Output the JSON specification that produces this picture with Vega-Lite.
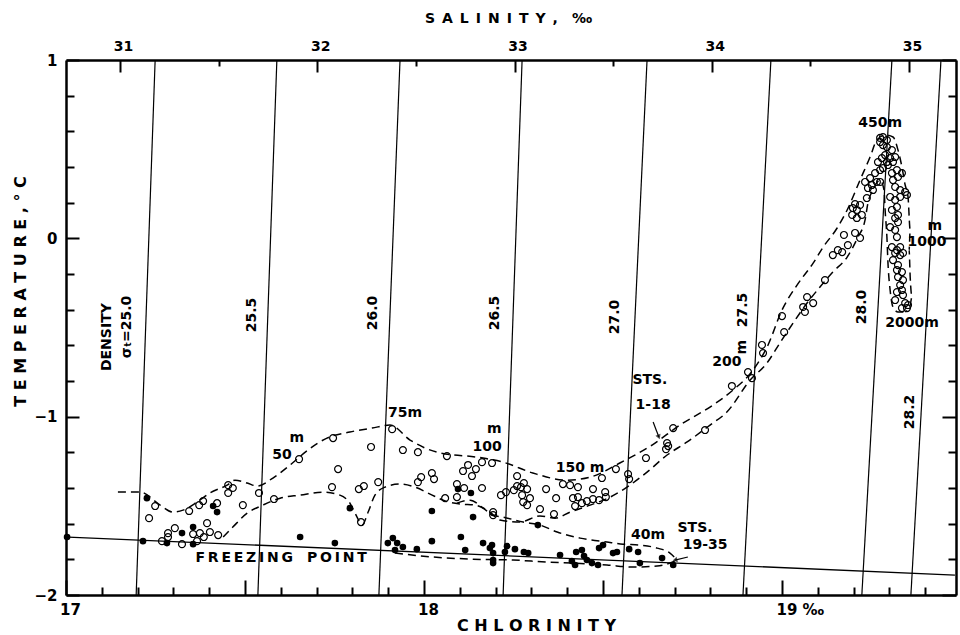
{
  "$schema": "https://vega.github.io/schema/vega-lite/v6.json",
  "width": 890,
  "height": 535,
  "autosize": {"type": "none"},
  "padding": {"left": 66, "top": 60, "right": 4, "bottom": 40},
  "background": "white",
  "config": {
    "view": {"stroke": null},
    "font": "DejaVu Sans",
    "axis": {"grid": false, "ticks": true, "domainColor": "black", "tickColor": "black", "labelColor": "black", "titleColor": "black", "labelOverlap": false, "labelFlush": false, "labelBound": false}
  },
  "datasets": {
    "iso": [
      {"sigma": "25.0", "i": 0, "cl": 17.196, "t": -2}, {"sigma": "25.0", "i": 1, "cl": 17.249, "t": 1},
      {"sigma": "25.5", "i": 0, "cl": 17.536, "t": -2}, {"sigma": "25.5", "i": 1, "cl": 17.589, "t": 1},
      {"sigma": "26.0", "i": 0, "cl": 17.874, "t": -2}, {"sigma": "26.0", "i": 1, "cl": 17.933, "t": 1},
      {"sigma": "26.5", "i": 0, "cl": 18.221, "t": -2}, {"sigma": "26.5", "i": 1, "cl": 18.274, "t": 1},
      {"sigma": "27.0", "i": 0, "cl": 18.553, "t": -2}, {"sigma": "27.0", "i": 1, "cl": 18.623, "t": 1},
      {"sigma": "27.5", "i": 0, "cl": 18.891, "t": -2}, {"sigma": "27.5", "i": 1, "cl": 18.969, "t": 1},
      {"sigma": "28.0", "i": 0, "cl": 19.223, "t": -2}, {"sigma": "28.0", "i": 1, "cl": 19.307, "t": 1},
      {"sigma": "28.2", "i": 0, "cl": 19.360, "t": -2}, {"sigma": "28.2", "i": 1, "cl": 19.444, "t": 1}
    ],
    "freeze": [
      {"i": 0, "cl": 17.006, "t": -1.675}, {"i": 1, "cl": 19.483, "t": -1.888}
    ],
    "env": [
      {"id": "E1", "i": 0, "cl": 17.145, "t": -1.423}, {"id": "E1", "i": 1, "cl": 17.207, "t": -1.423},
      {"id": "E1", "i": 2, "cl": 17.263, "t": -1.496}, {"id": "E1", "i": 3, "cl": 17.299, "t": -1.535},
      {"id": "E1", "i": 4, "cl": 17.327, "t": -1.524}, {"id": "E1", "i": 5, "cl": 17.366, "t": -1.479},
      {"id": "E1", "i": 6, "cl": 17.402, "t": -1.428}, {"id": "E1", "i": 7, "cl": 17.450, "t": -1.384},
      {"id": "E1", "i": 8, "cl": 17.472, "t": -1.356}, {"id": "E1", "i": 9, "cl": 17.506, "t": -1.372},
      {"id": "E1", "i": 10, "cl": 17.534, "t": -1.389}, {"id": "E1", "i": 11, "cl": 17.578, "t": -1.344},
      {"id": "E1", "i": 12, "cl": 17.626, "t": -1.271}, {"id": "E1", "i": 13, "cl": 17.676, "t": -1.187},
      {"id": "E1", "i": 14, "cl": 17.729, "t": -1.120}, {"id": "E1", "i": 15, "cl": 17.793, "t": -1.086},
      {"id": "E1", "i": 16, "cl": 17.855, "t": -1.064}, {"id": "E1", "i": 17, "cl": 17.905, "t": -1.047},
      {"id": "E1", "i": 18, "cl": 17.961, "t": -1.131}, {"id": "E1", "i": 19, "cl": 18.036, "t": -1.199},
      {"id": "E1", "i": 20, "cl": 18.165, "t": -1.232}, {"id": "E1", "i": 21, "cl": 18.221, "t": -1.255},
      {"id": "E1", "i": 22, "cl": 18.304, "t": -1.316}, {"id": "E1", "i": 23, "cl": 18.399, "t": -1.356},
      {"id": "E1", "i": 24, "cl": 18.464, "t": -1.339}, {"id": "E1", "i": 25, "cl": 18.547, "t": -1.260},
      {"id": "E1", "i": 26, "cl": 18.637, "t": -1.159}, {"id": "E1", "i": 27, "cl": 18.715, "t": -1.047},
      {"id": "E1", "i": 28, "cl": 18.807, "t": -0.935}, {"id": "E1", "i": 29, "cl": 18.863, "t": -0.851},
      {"id": "E1", "i": 30, "cl": 18.919, "t": -0.739}, {"id": "E1", "i": 31, "cl": 18.961, "t": -0.598},
      {"id": "E1", "i": 32, "cl": 19.000, "t": -0.402}, {"id": "E1", "i": 33, "cl": 19.042, "t": -0.262},
      {"id": "E1", "i": 34, "cl": 19.087, "t": -0.139}, {"id": "E1", "i": 35, "cl": 19.115, "t": -0.049},
      {"id": "E1", "i": 36, "cl": 19.154, "t": 0.058}, {"id": "E1", "i": 37, "cl": 19.182, "t": 0.159},
      {"id": "E1", "i": 38, "cl": 19.218, "t": 0.327}, {"id": "E1", "i": 39, "cl": 19.246, "t": 0.456},
      {"id": "E1", "i": 40, "cl": 19.265, "t": 0.551}, {"id": "E1", "i": 41, "cl": 19.288, "t": 0.579},
      {"id": "E1", "i": 42, "cl": 19.310, "t": 0.568}, {"id": "E1", "i": 43, "cl": 19.324, "t": 0.495},
      {"id": "E1", "i": 44, "cl": 19.335, "t": 0.400}, {"id": "E1", "i": 45, "cl": 19.344, "t": 0.299},
      {"id": "E1", "i": 46, "cl": 19.352, "t": 0.232}, {"id": "E1", "i": 47, "cl": 19.358, "t": 0.047},
      {"id": "E1", "i": 48, "cl": 19.355, "t": -0.066}, {"id": "E1", "i": 49, "cl": 19.358, "t": -0.217},
      {"id": "E1", "i": 50, "cl": 19.363, "t": -0.329}, {"id": "E1", "i": 51, "cl": 19.358, "t": -0.374},
      {"id": "E1", "i": 52, "cl": 19.344, "t": -0.413},
      {"id": "E2", "i": 0, "cl": 17.439, "t": -1.675}, {"id": "E2", "i": 1, "cl": 17.466, "t": -1.619},
      {"id": "E2", "i": 2, "cl": 17.506, "t": -1.541}, {"id": "E2", "i": 3, "cl": 17.550, "t": -1.496},
      {"id": "E2", "i": 4, "cl": 17.598, "t": -1.457}, {"id": "E2", "i": 5, "cl": 17.654, "t": -1.440},
      {"id": "E2", "i": 6, "cl": 17.718, "t": -1.423}, {"id": "E2", "i": 7, "cl": 17.765, "t": -1.440},
      {"id": "E2", "i": 8, "cl": 17.793, "t": -1.485}, {"id": "E2", "i": 9, "cl": 17.813, "t": -1.563},
      {"id": "E2", "i": 10, "cl": 17.827, "t": -1.608}, {"id": "E2", "i": 11, "cl": 17.844, "t": -1.535},
      {"id": "E2", "i": 12, "cl": 17.863, "t": -1.440}, {"id": "E2", "i": 13, "cl": 17.891, "t": -1.395},
      {"id": "E2", "i": 14, "cl": 17.933, "t": -1.378}, {"id": "E2", "i": 15, "cl": 17.975, "t": -1.395},
      {"id": "E2", "i": 16, "cl": 18.017, "t": -1.434}, {"id": "E2", "i": 17, "cl": 18.059, "t": -1.473},
      {"id": "E2", "i": 18, "cl": 18.101, "t": -1.490}, {"id": "E2", "i": 19, "cl": 18.143, "t": -1.496},
      {"id": "E2", "i": 20, "cl": 18.184, "t": -1.535}, {"id": "E2", "i": 21, "cl": 18.212, "t": -1.580},
      {"id": "E2", "i": 22, "cl": 18.268, "t": -1.591}, {"id": "E2", "i": 23, "cl": 18.324, "t": -1.557},
      {"id": "E2", "i": 24, "cl": 18.366, "t": -1.569}, {"id": "E2", "i": 25, "cl": 18.408, "t": -1.535},
      {"id": "E2", "i": 26, "cl": 18.464, "t": -1.496}, {"id": "E2", "i": 27, "cl": 18.520, "t": -1.451},
      {"id": "E2", "i": 28, "cl": 18.567, "t": -1.395}, {"id": "E2", "i": 29, "cl": 18.623, "t": -1.311},
      {"id": "E2", "i": 30, "cl": 18.679, "t": -1.215}, {"id": "E2", "i": 31, "cl": 18.735, "t": -1.142},
      {"id": "E2", "i": 32, "cl": 18.799, "t": -1.047}, {"id": "E2", "i": 33, "cl": 18.846, "t": -0.974},
      {"id": "E2", "i": 34, "cl": 18.911, "t": -0.795}, {"id": "E2", "i": 35, "cl": 18.958, "t": -0.699},
      {"id": "E2", "i": 36, "cl": 18.994, "t": -0.587}, {"id": "E2", "i": 37, "cl": 19.031, "t": -0.475},
      {"id": "E2", "i": 38, "cl": 19.070, "t": -0.363}, {"id": "E2", "i": 39, "cl": 19.106, "t": -0.273},
      {"id": "E2", "i": 40, "cl": 19.142, "t": -0.189}, {"id": "E2", "i": 41, "cl": 19.182, "t": -0.105},
      {"id": "E2", "i": 42, "cl": 19.212, "t": 0.007}, {"id": "E2", "i": 43, "cl": 19.232, "t": 0.103},
      {"id": "E2", "i": 44, "cl": 19.240, "t": 0.198}, {"id": "E2", "i": 45, "cl": 19.254, "t": 0.271},
      {"id": "E2", "i": 46, "cl": 19.274, "t": 0.327}, {"id": "E2", "i": 47, "cl": 19.285, "t": 0.271},
      {"id": "E2", "i": 48, "cl": 19.288, "t": 0.159}, {"id": "E2", "i": 49, "cl": 19.293, "t": 0.007},
      {"id": "E2", "i": 50, "cl": 19.296, "t": -0.139}, {"id": "E2", "i": 51, "cl": 19.302, "t": -0.290},
      {"id": "E2", "i": 52, "cl": 19.310, "t": -0.385}, {"id": "E2", "i": 53, "cl": 19.324, "t": -0.413},
      {"id": "E2", "i": 54, "cl": 19.344, "t": -0.413},
      {"id": "E3", "i": 0, "cl": 18.092, "t": -1.485}, {"id": "E3", "i": 1, "cl": 18.129, "t": -1.468},
      {"id": "E3", "i": 2, "cl": 18.165, "t": -1.513}, {"id": "E3", "i": 3, "cl": 18.193, "t": -1.552},
      {"id": "E3", "i": 4, "cl": 18.221, "t": -1.563}, {"id": "E3", "i": 5, "cl": 18.277, "t": -1.591},
      {"id": "E3", "i": 6, "cl": 18.324, "t": -1.608}, {"id": "E3", "i": 7, "cl": 18.372, "t": -1.647},
      {"id": "E3", "i": 8, "cl": 18.436, "t": -1.681}, {"id": "E3", "i": 9, "cl": 18.511, "t": -1.703},
      {"id": "E3", "i": 10, "cl": 18.556, "t": -1.715}, {"id": "E3", "i": 11, "cl": 18.603, "t": -1.720},
      {"id": "E3", "i": 12, "cl": 18.651, "t": -1.737}, {"id": "E3", "i": 13, "cl": 18.687, "t": -1.765},
      {"id": "E3", "i": 14, "cl": 18.707, "t": -1.804},
      {"id": "E4", "i": 0, "cl": 17.919, "t": -1.765}, {"id": "E4", "i": 1, "cl": 18.025, "t": -1.787},
      {"id": "E4", "i": 2, "cl": 18.137, "t": -1.799}, {"id": "E4", "i": 3, "cl": 18.249, "t": -1.804},
      {"id": "E4", "i": 4, "cl": 18.344, "t": -1.815}, {"id": "E4", "i": 5, "cl": 18.416, "t": -1.821},
      {"id": "E4", "i": 6, "cl": 18.511, "t": -1.832}, {"id": "E4", "i": 7, "cl": 18.584, "t": -1.843},
      {"id": "E4", "i": 8, "cl": 18.651, "t": -1.838}, {"id": "E4", "i": 9, "cl": 18.687, "t": -1.821},
      {"id": "E4", "i": 10, "cl": 18.707, "t": -1.804}
    ],
    "arrows": [
      {"id": "A1", "i": 0, "cl": 18.640, "t": -1.030}, {"id": "A1", "i": 1, "cl": 18.656, "t": -1.114},
      {"id": "A2", "i": 0, "cl": 18.737, "t": -1.787}, {"id": "A2", "i": 1, "cl": 18.701, "t": -1.804}
    ],
    "open": [
      {"cl": 17.249, "t": -1.501}, {"cl": 17.232, "t": -1.569}, {"cl": 17.268, "t": -1.698}, {"cl": 17.285, "t": -1.675},
      {"cl": 17.285, "t": -1.653}, {"cl": 17.304, "t": -1.625}, {"cl": 17.324, "t": -1.715}, {"cl": 17.355, "t": -1.658},
      {"cl": 17.374, "t": -1.653}, {"cl": 17.366, "t": -1.698}, {"cl": 17.385, "t": -1.675}, {"cl": 17.402, "t": -1.647},
      {"cl": 17.394, "t": -1.597}, {"cl": 17.425, "t": -1.664}, {"cl": 17.344, "t": -1.529}, {"cl": 17.372, "t": -1.496},
      {"cl": 17.383, "t": -1.473}, {"cl": 17.422, "t": -1.485}, {"cl": 17.453, "t": -1.428}, {"cl": 17.453, "t": -1.384},
      {"cl": 17.466, "t": -1.400}, {"cl": 17.494, "t": -1.496}, {"cl": 17.539, "t": -1.428}, {"cl": 17.581, "t": -1.462},
      {"cl": 17.651, "t": -1.238}, {"cl": 17.746, "t": -1.120}, {"cl": 17.760, "t": -1.294}, {"cl": 17.743, "t": -1.395},
      {"cl": 17.818, "t": -1.406}, {"cl": 17.832, "t": -1.389}, {"cl": 17.824, "t": -1.591}, {"cl": 17.852, "t": -1.170},
      {"cl": 17.872, "t": -1.367}, {"cl": 17.911, "t": -1.070}, {"cl": 17.941, "t": -1.187}, {"cl": 17.983, "t": -1.199},
      {"cl": 18.064, "t": -1.221}, {"cl": 17.983, "t": -1.367}, {"cl": 17.992, "t": -1.339}, {"cl": 18.022, "t": -1.316},
      {"cl": 18.028, "t": -1.350}, {"cl": 18.059, "t": -1.457}, {"cl": 18.092, "t": -1.451}, {"cl": 18.092, "t": -1.378},
      {"cl": 18.112, "t": -1.400}, {"cl": 18.109, "t": -1.305}, {"cl": 18.123, "t": -1.271}, {"cl": 18.134, "t": -1.333},
      {"cl": 18.145, "t": -1.294}, {"cl": 18.162, "t": -1.255}, {"cl": 18.190, "t": -1.260}, {"cl": 18.162, "t": -1.400},
      {"cl": 18.193, "t": -1.535}, {"cl": 18.193, "t": -1.552}, {"cl": 18.215, "t": -1.440}, {"cl": 18.229, "t": -1.423},
      {"cl": 18.251, "t": -1.412}, {"cl": 18.260, "t": -1.389}, {"cl": 18.271, "t": -1.395}, {"cl": 18.279, "t": -1.372},
      {"cl": 18.288, "t": -1.406}, {"cl": 18.274, "t": -1.440}, {"cl": 18.296, "t": -1.457}, {"cl": 18.277, "t": -1.479},
      {"cl": 18.288, "t": -1.496}, {"cl": 18.260, "t": -1.333}, {"cl": 18.324, "t": -1.518}, {"cl": 18.341, "t": -1.406},
      {"cl": 18.363, "t": -1.546}, {"cl": 18.369, "t": -1.457}, {"cl": 18.388, "t": -1.378}, {"cl": 18.408, "t": -1.384},
      {"cl": 18.430, "t": -1.395}, {"cl": 18.416, "t": -1.457}, {"cl": 18.430, "t": -1.451}, {"cl": 18.422, "t": -1.501},
      {"cl": 18.441, "t": -1.485}, {"cl": 18.455, "t": -1.473}, {"cl": 18.472, "t": -1.462}, {"cl": 18.489, "t": -1.468},
      {"cl": 18.508, "t": -1.451}, {"cl": 18.472, "t": -1.406}, {"cl": 18.506, "t": -1.423}, {"cl": 18.497, "t": -1.344},
      {"cl": 18.536, "t": -1.294}, {"cl": 18.570, "t": -1.322}, {"cl": 18.573, "t": -1.350}, {"cl": 18.620, "t": -1.232},
      {"cl": 18.679, "t": -1.148}, {"cl": 18.682, "t": -1.165}, {"cl": 18.676, "t": -1.182}, {"cl": 18.696, "t": -1.064},
      {"cl": 18.785, "t": -1.075}, {"cl": 18.860, "t": -0.828}, {"cl": 18.905, "t": -0.750}, {"cl": 18.916, "t": -0.784},
      {"cl": 18.944, "t": -0.598}, {"cl": 18.947, "t": -0.643}, {"cl": 19.000, "t": -0.436}, {"cl": 19.006, "t": -0.526},
      {"cl": 19.059, "t": -0.385}, {"cl": 19.064, "t": -0.413}, {"cl": 19.070, "t": -0.329}, {"cl": 19.087, "t": -0.363},
      {"cl": 19.120, "t": -0.234}, {"cl": 19.142, "t": -0.094}, {"cl": 19.156, "t": -0.066}, {"cl": 19.173, "t": 0.019},
      {"cl": 19.204, "t": 0.030}, {"cl": 19.218, "t": 0.002}, {"cl": 19.184, "t": -0.038}, {"cl": 19.168, "t": -0.077},
      {"cl": 19.196, "t": 0.131}, {"cl": 19.209, "t": 0.159}, {"cl": 19.218, "t": 0.187}, {"cl": 19.198, "t": 0.170},
      {"cl": 19.223, "t": 0.131}, {"cl": 19.209, "t": 0.114}, {"cl": 19.204, "t": 0.192}, {"cl": 19.237, "t": 0.226},
      {"cl": 19.240, "t": 0.282}, {"cl": 19.251, "t": 0.299}, {"cl": 19.265, "t": 0.316}, {"cl": 19.254, "t": 0.271},
      {"cl": 19.274, "t": 0.316}, {"cl": 19.246, "t": 0.338}, {"cl": 19.232, "t": 0.316}, {"cl": 19.260, "t": 0.366},
      {"cl": 19.274, "t": 0.383}, {"cl": 19.282, "t": 0.394}, {"cl": 19.268, "t": 0.428}, {"cl": 19.279, "t": 0.450},
      {"cl": 19.288, "t": 0.467}, {"cl": 19.293, "t": 0.428}, {"cl": 19.296, "t": 0.411}, {"cl": 19.302, "t": 0.450},
      {"cl": 19.310, "t": 0.428}, {"cl": 19.316, "t": 0.456}, {"cl": 19.307, "t": 0.495}, {"cl": 19.293, "t": 0.512},
      {"cl": 19.282, "t": 0.523}, {"cl": 19.274, "t": 0.540}, {"cl": 19.282, "t": 0.568}, {"cl": 19.293, "t": 0.551},
      {"cl": 19.274, "t": 0.563}, {"cl": 19.307, "t": 0.366}, {"cl": 19.321, "t": 0.383}, {"cl": 19.310, "t": 0.327},
      {"cl": 19.324, "t": 0.344}, {"cl": 19.335, "t": 0.366}, {"cl": 19.316, "t": 0.288}, {"cl": 19.330, "t": 0.271},
      {"cl": 19.344, "t": 0.260}, {"cl": 19.349, "t": 0.243}, {"cl": 19.302, "t": 0.232}, {"cl": 19.316, "t": 0.215},
      {"cl": 19.330, "t": 0.232}, {"cl": 19.321, "t": 0.176}, {"cl": 19.307, "t": 0.159}, {"cl": 19.324, "t": 0.131},
      {"cl": 19.316, "t": 0.114}, {"cl": 19.324, "t": 0.091}, {"cl": 19.302, "t": 0.063}, {"cl": 19.316, "t": 0.047},
      {"cl": 19.321, "t": 0.007}, {"cl": 19.307, "t": -0.049}, {"cl": 19.321, "t": -0.066}, {"cl": 19.330, "t": -0.049},
      {"cl": 19.316, "t": -0.082}, {"cl": 19.330, "t": -0.094}, {"cl": 19.338, "t": -0.082}, {"cl": 19.310, "t": -0.122},
      {"cl": 19.324, "t": -0.150}, {"cl": 19.321, "t": -0.178}, {"cl": 19.335, "t": -0.189}, {"cl": 19.324, "t": -0.217},
      {"cl": 19.338, "t": -0.234}, {"cl": 19.330, "t": -0.262}, {"cl": 19.335, "t": -0.290}, {"cl": 19.321, "t": -0.301},
      {"cl": 19.338, "t": -0.318}, {"cl": 19.316, "t": -0.346}, {"cl": 19.344, "t": -0.363}, {"cl": 19.352, "t": -0.374},
      {"cl": 19.349, "t": -0.391}, {"cl": 19.335, "t": -0.391}
    ],
    "filled": [
      {"cl": 17.003, "t": -1.675}, {"cl": 17.215, "t": -1.698}, {"cl": 17.226, "t": -1.457}, {"cl": 17.282, "t": -1.709},
      {"cl": 17.324, "t": -1.653}, {"cl": 17.355, "t": -1.619}, {"cl": 17.355, "t": -1.715}, {"cl": 17.411, "t": -1.501},
      {"cl": 17.422, "t": -1.535}, {"cl": 17.654, "t": -1.675}, {"cl": 17.751, "t": -1.709}, {"cl": 17.793, "t": -1.513},
      {"cl": 17.899, "t": -1.709}, {"cl": 17.913, "t": -1.681}, {"cl": 17.925, "t": -1.709}, {"cl": 17.919, "t": -1.748},
      {"cl": 17.941, "t": -1.731}, {"cl": 17.980, "t": -1.743}, {"cl": 18.022, "t": -1.698}, {"cl": 18.022, "t": -1.529},
      {"cl": 18.095, "t": -1.406}, {"cl": 18.103, "t": -1.675}, {"cl": 18.115, "t": -1.748}, {"cl": 18.131, "t": -1.428},
      {"cl": 18.137, "t": -1.563}, {"cl": 18.165, "t": -1.709}, {"cl": 18.190, "t": -1.720}, {"cl": 18.193, "t": -1.765},
      {"cl": 18.184, "t": -1.737}, {"cl": 18.193, "t": -1.804}, {"cl": 18.193, "t": -1.821}, {"cl": 18.232, "t": -1.726},
      {"cl": 18.226, "t": -1.759}, {"cl": 18.254, "t": -1.743}, {"cl": 18.279, "t": -1.759}, {"cl": 18.291, "t": -1.765},
      {"cl": 18.318, "t": -1.608}, {"cl": 18.380, "t": -1.776}, {"cl": 18.413, "t": -1.810}, {"cl": 18.422, "t": -1.832},
      {"cl": 18.447, "t": -1.782}, {"cl": 18.455, "t": -1.804}, {"cl": 18.425, "t": -1.759}, {"cl": 18.441, "t": -1.748},
      {"cl": 18.469, "t": -1.821}, {"cl": 18.486, "t": -1.832}, {"cl": 18.489, "t": -1.737}, {"cl": 18.500, "t": -1.720},
      {"cl": 18.528, "t": -1.765}, {"cl": 18.539, "t": -1.759}, {"cl": 18.573, "t": -1.743}, {"cl": 18.598, "t": -1.759},
      {"cl": 18.603, "t": -1.821}, {"cl": 18.665, "t": -1.793}, {"cl": 18.696, "t": -1.832}
    ],
    "labels": [
      {"txt": "450m", "cl": 19.274, "t": 0.647},
      {"txt": "1000", "cl": 19.405, "t": -0.021},
      {"txt": "m", "cl": 19.427, "t": 0.070},
      {"txt": "2000m", "cl": 19.363, "t": -0.475},
      {"txt": "50", "cl": 17.603, "t": -1.215},
      {"txt": "m", "cl": 17.645, "t": -1.118},
      {"txt": "75m", "cl": 17.947, "t": -0.980},
      {"txt": "100", "cl": 18.176, "t": -1.168},
      {"txt": "m", "cl": 18.196, "t": -1.070},
      {"txt": "150 m", "cl": 18.436, "t": -1.288},
      {"txt": "40m", "cl": 18.626, "t": -1.664},
      {"txt": "STS.", "cl": 18.757, "t": -1.622},
      {"txt": "19-35", "cl": 18.785, "t": -1.722},
      {"txt": "STS.", "cl": 18.631, "t": -0.795},
      {"txt": "1-18", "cl": 18.640, "t": -0.935},
      {"txt": "200", "cl": 18.846, "t": -0.694},
      {"txt": "F\u2009R\u2009E\u2009E\u2009Z\u2009I\u2009N\u2009G\u2002\u2002P\u2009O\u2009I\u2009N\u2009T", "cl": 17.601, "t": -1.793}
    ],
    "vlabels": [
      {"txt": "DENSITY", "cl": 17.115, "t": -0.554},
      {"txt": "σₜ=25.0", "cl": 17.170, "t": -0.497},
      {"txt": "25.5", "cl": 17.520, "t": -0.430},
      {"txt": "26.0", "cl": 17.858, "t": -0.419},
      {"txt": "26.5", "cl": 18.198, "t": -0.419},
      {"txt": "27.0", "cl": 18.534, "t": -0.441},
      {"txt": "27.5", "cl": 18.891, "t": -0.402},
      {"txt": "28.0", "cl": 19.223, "t": -0.385},
      {"txt": "28.2", "cl": 19.358, "t": -0.974},
      {"txt": "m", "cl": 18.888, "t": -0.610}
    ],
    "sal": [
      {"s": 30.726, "t": -2}, {"s": 35.238, "t": 1}
    ]
  },
  "layer": [
    {
      "layer": [
        {
          "data": {"name": "iso"},
          "mark": {"type": "line", "color": "black", "strokeWidth": 1.2},
          "encoding": {
            "x": {
              "field": "cl", "type": "quantitative",
              "scale": {"domain": [17, 19.486], "nice": false, "zero": false},
              "axis": {
                "orient": "bottom", "offset": -8,
                "values": [17.1, 17.2, 17.3, 17.4, 17.6, 17.7, 17.8, 17.9, 18.1, 18.2, 18.3, 18.4, 18.6, 18.7, 18.8, 18.9, 19.1, 19.2, 19.3, 19.4],
                "ticks": true, "tickSize": 8, "tickWidth": 2, "tickColor": "black", "tickOpacity": 1,
                "domain": false, "labels": false, "title": null
              }
            },
            "y": {
              "field": "t", "type": "quantitative",
              "scale": {"domain": [-2, 1], "nice": false, "zero": false},
              "axis": {
                "orient": "left", "offset": -8,
                "values": [-1.8, -1.6, -1.4, -1.2, -0.8, -0.6, -0.4, -0.2, 0.2, 0.4, 0.6, 0.8],
                "ticks": true, "tickSize": 8, "tickWidth": 2, "tickColor": "black", "tickOpacity": 1,
                "domain": false, "labels": false, "title": null
              }
            },
            "detail": {"field": "sigma"},
            "order": {"field": "i"}
          }
        },
        {
          "data": {"name": "freeze"},
          "mark": {"type": "line", "color": "black", "strokeWidth": 1.3},
          "encoding": {
            "x": {
              "field": "cl", "type": "quantitative",
              "axis": {
                "orient": "bottom", "offset": -15,
                "values": [17, 17.5, 18, 18.5, 19],
                "ticks": true, "tickSize": 15, "tickWidth": 2, "tickColor": "black", "tickOpacity": 1,
                "domain": false,
                "labelExpr": "datum.value == 19 ? '19 ‰' : (datum.value == 17 || datum.value == 18 ? format(datum.value, 'd') : '')",
                "labelAlign": {"condition": {"test": "datum.value == 19", "value": "left"}, "value": "center"},
                "labelOffset": {"condition": {"test": "datum.value == 19", "value": -6}, "value": 4},
                "labelPadding": 7,
                "labelFont": "DejaVu Sans", "labelFontWeight": "bold", "labelFontSize": 15,
                "title": "C H L O R I N I T Y",
                "titleFont": "DejaVu Sans", "titleFontWeight": "bold", "titleFontSize": 16,
                "titleX": 470, "titleY": 45, "titleAlign": "center", "titleBaseline": "middle", "titleAnchor": null
              }
            },
            "y": {
              "field": "t", "type": "quantitative",
              "axis": {
                "orient": "left", "offset": -13,
                "values": [-2, -1, 0, 1],
                "ticks": true, "tickSize": 13, "tickWidth": 2, "tickColor": "black", "tickOpacity": 1,
                "domain": false,
                "labelExpr": "format(datum.value, 'd')",
                "labelPadding": 9,
                "labelFont": "DejaVu Sans", "labelFontWeight": "bold", "labelFontSize": 15,
                "title": "T E M P E R A T U R E ,  ° C",
                "titleFont": "DejaVu Sans", "titleFontWeight": "bold", "titleFontSize": 16,
                "titleX": -59, "titleY": 231, "titleAngle": 270, "titleAlign": "center", "titleBaseline": "middle", "titleAnchor": null
              }
            },
            "order": {"field": "i"}
          }
        },
        {
          "data": {"name": "env"},
          "mark": {"type": "line", "color": "black", "strokeWidth": 1.5, "strokeDash": [8, 5], "interpolate": "monotone"},
          "encoding": {
            "x": {"field": "cl", "type": "quantitative", "axis": {"orient": "bottom", "ticks": false, "labels": false, "domainWidth": 2.5, "title": null}},
            "y": {"field": "t", "type": "quantitative", "axis": {"orient": "left", "ticks": false, "labels": false, "domainWidth": 2.5, "title": null}},
            "detail": {"field": "id"},
            "order": {"field": "i"}
          }
        },
        {
          "data": {"name": "arrows"},
          "mark": {"type": "line", "color": "black", "strokeWidth": 1.2},
          "encoding": {
            "x": {"field": "cl", "type": "quantitative", "axis": null},
            "y": {"field": "t", "type": "quantitative", "axis": null},
            "detail": {"field": "id"},
            "order": {"field": "i"}
          }
        },
        {
          "data": {"name": "arrows"},
          "transform": [{"filter": "datum.id == 'A1' && datum.i == 1"}],
          "mark": {"type": "point", "shape": "triangle-down", "filled": true, "color": "black", "size": 30, "angle": 338},
          "encoding": {
            "x": {"field": "cl", "type": "quantitative", "axis": null},
            "y": {"field": "t", "type": "quantitative", "axis": null}
          }
        },
        {
          "data": {"name": "arrows"},
          "transform": [{"filter": "datum.id == 'A2' && datum.i == 1"}],
          "mark": {"type": "point", "shape": "triangle-left", "filled": true, "color": "black", "size": 30, "angle": 347},
          "encoding": {
            "x": {"field": "cl", "type": "quantitative", "axis": null},
            "y": {"field": "t", "type": "quantitative", "axis": null}
          }
        },
        {
          "data": {"name": "open"},
          "mark": {"type": "point", "shape": "circle", "filled": false, "stroke": "black", "strokeWidth": 1.2, "size": 48, "opacity": 1},
          "encoding": {
            "x": {"field": "cl", "type": "quantitative", "axis": null},
            "y": {"field": "t", "type": "quantitative", "axis": null}
          }
        },
        {
          "data": {"name": "filled"},
          "mark": {"type": "point", "shape": "circle", "filled": true, "color": "black", "size": 44, "opacity": 1},
          "encoding": {
            "x": {"field": "cl", "type": "quantitative", "axis": null},
            "y": {"field": "t", "type": "quantitative", "axis": null}
          }
        },
        {
          "data": {"name": "labels"},
          "mark": {"type": "text", "font": "DejaVu Sans", "fontWeight": "bold", "fontSize": 14, "color": "black", "align": "center", "baseline": "middle"},
          "encoding": {
            "x": {"field": "cl", "type": "quantitative", "axis": null},
            "y": {"field": "t", "type": "quantitative", "axis": null},
            "text": {"field": "txt"}
          }
        },
        {
          "data": {"name": "vlabels"},
          "mark": {"type": "text", "font": "DejaVu Sans", "fontWeight": "bold", "fontSize": 14, "color": "black", "align": "center", "baseline": "middle", "angle": 270},
          "encoding": {
            "x": {"field": "cl", "type": "quantitative", "axis": null},
            "y": {"field": "t", "type": "quantitative", "axis": null},
            "text": {"field": "txt"}
          }
        }
      ],
      "resolve": {"axis": {"x": "independent", "y": "independent"}}
    },
    {
      "data": {"name": "sal"},
      "mark": {"type": "point", "opacity": 0},
      "encoding": {
        "x": {
          "field": "s", "type": "quantitative",
          "scale": {"domain": [30.726, 35.238], "nice": false, "zero": false},
          "axis": {
            "orient": "top", "offset": -12,
            "values": [31, 32, 33, 34, 35],
            "ticks": true, "tickSize": 12, "tickWidth": 2, "tickColor": "black", "tickOpacity": 1,
            "domain": false,
            "labelExpr": "format(datum.value, 'd')",
            "labelPadding": 7,
            "labelOffset": 3,
            "labelFont": "DejaVu Sans", "labelFontWeight": "bold", "labelFontSize": 14,
            "title": "S\u2002A\u2002L\u2002I\u2002N\u2002I\u2002T\u2002Y\u2002,\u2002\u2002‰",
            "titleFont": "DejaVu Sans", "titleFontWeight": "bold", "titleFontSize": 14,
            "titleX": 442, "titleY": -54, "titleAlign": "center", "titleBaseline": "middle", "titleAnchor": null
          }
        },
        "y": {
          "field": "t", "type": "quantitative",
          "scale": {"domain": [-2, 1], "nice": false, "zero": false},
          "axis": {
            "orient": "right", "offset": -8,
            "values": [-1.8, -1.6, -1.4, -1.2, -0.8, -0.6, -0.4, -0.2, 0.2, 0.4, 0.6, 0.8],
            "ticks": true, "tickSize": 8, "tickWidth": 2, "tickColor": "black", "tickOpacity": 1,
            "domain": false, "labels": false, "title": null
          }
        }
      }
    },
    {
      "data": {"name": "sal"},
      "mark": {"type": "point", "opacity": 0},
      "encoding": {
        "x": {
          "field": "s", "type": "quantitative",
          "scale": {"domain": [30.726, 35.238], "nice": false, "zero": false},
          "axis": {
            "orient": "top", "offset": -6,
            "values": [31.5, 32.5, 33.5, 34.5],
            "ticks": true, "tickSize": 6, "tickWidth": 2, "tickColor": "black", "tickOpacity": 1,
            "domain": false, "labels": false, "title": null
          }
        },
        "y": {
          "field": "t", "type": "quantitative",
          "axis": {
            "orient": "right", "offset": -14,
            "values": [-2, -1, 0, 1],
            "ticks": true, "tickSize": 14, "tickWidth": 2, "tickColor": "black", "tickOpacity": 1,
            "domain": false, "labels": false, "title": null
          }
        }
      }
    },
    {
      "data": {"name": "sal"},
      "mark": {"type": "point", "opacity": 0},
      "encoding": {
        "x": {
          "field": "s", "type": "quantitative",
          "scale": {"domain": [30.726, 35.238], "nice": false, "zero": false},
          "axis": {"orient": "top", "ticks": false, "labels": false, "domainWidth": 2.5, "title": null}
        },
        "y": {
          "field": "t", "type": "quantitative",
          "axis": {"orient": "right", "ticks": false, "labels": false, "domainWidth": 2.5, "title": null}
        }
      }
    }
  ],
  "resolve": {"scale": {"x": "independent"}, "axis": {"x": "independent", "y": "independent"}}
}
